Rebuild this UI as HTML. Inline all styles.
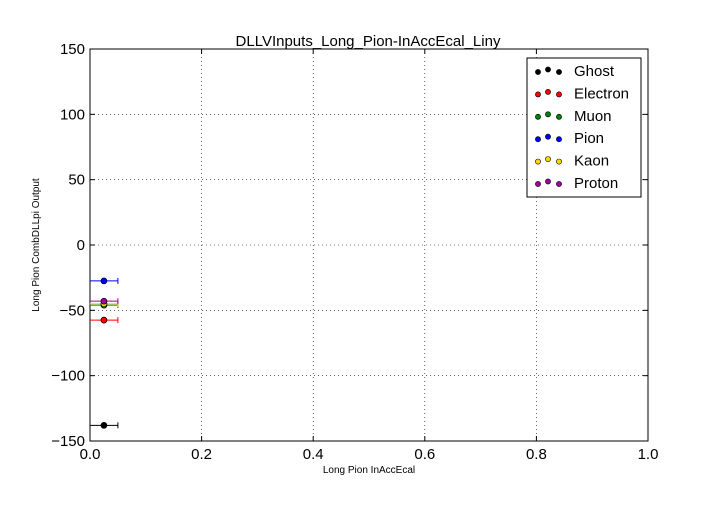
<!DOCTYPE html>
<html><head><meta charset="utf-8"><style>
body{margin:0;background:#fff;width:720px;height:504px;overflow:hidden}
text{font-family:"Liberation Sans",sans-serif}
</style></head><body>
<svg id="c" width="720" height="504"></svg>
<script>
const categories=["Ghost","Electron","Muon","Pion","Kaon","Proton"];
const colors=["#000000","#ff0000","#008000","#0000ff","#ffd700","#a000a0"];
const xValues=[0.025,0.025,0.025,0.025,0.025,0.025];
const xErr=[0.025,0.025,0.025,0.025,0.025,0.025];
const yValues=[-138,-57.5,-46,-27.5,-45,-43];
const xTicks=[0,0.2,0.4,0.6,0.8,1.0];
const xTickLabels=["0.0","0.2","0.4","0.6","0.8","1.0"];
const yTicks=[150,100,50,0,-50,-100,-150];
const yTickLabels=["150","100","50","0","\u221250","\u2212100","\u2212150"];
const svg=document.getElementById('c');
const NS="http://www.w3.org/2000/svg";
const L=90,R=648,T=49,B=441;
const sx=v=>L+(v-0)/(1-0)*(R-L);
const sy=v=>T+(150-v)/300*(B-T);
function mk(tag,a,p){const e=document.createElementNS(NS,tag);for(const k in a)e.setAttribute(k,a[k]);(p||svg).appendChild(e);return e;}
// grid
xTicks.forEach((t,i)=>{
 const g=mk('line',{x1:sx(t),x2:sx(t),y1:T,y2:B,stroke:'#000','stroke-dasharray':'1,3','stroke-width':0.6});
 
 
 mk('line',{x1:sx(t),x2:sx(t),y1:B,y2:B-5,stroke:'#000'});
 mk('line',{x1:sx(t),x2:sx(t),y1:T,y2:T+5,stroke:'#000'});
 const tx=mk('text',{x:sx(t),y:B+18,'text-anchor':'middle','font-size':15});
 tx.textContent=xTickLabels[i];
 
 
});
yTicks.forEach((t,i)=>{
 const g=mk('line',{x1:L,x2:R,y1:sy(t),y2:sy(t),stroke:'#000','stroke-dasharray':'1,3','stroke-width':0.6});
 
 
 mk('line',{x1:L,x2:L+5,y1:sy(t),y2:sy(t),stroke:'#000'});
 mk('line',{x1:R,x2:R-5,y1:sy(t),y2:sy(t),stroke:'#000'});
 const tx=mk('text',{x:L-5,y:sy(t)+5,'text-anchor':'end','font-size':15});
 tx.textContent=yTickLabels[i];
 
 
});
const fr=mk('rect',{x:L,y:T,width:R-L,height:B-T,fill:'none',stroke:'#000','stroke-width':1});


// series
categories.forEach((c,i)=>{
 const g=mk('g',{});
 
 
 const y=sy(yValues[i]);
 mk('line',{x1:sx(xValues[i]-xErr[i]),x2:sx(xValues[i]+xErr[i]),y1:y,y2:y,stroke:colors[i],'stroke-width':1},g);
 mk('line',{x1:sx(xValues[i]+xErr[i]),x2:sx(xValues[i]+xErr[i]),y1:y-3,y2:y+3,stroke:colors[i],'stroke-width':1},g);
 mk('circle',{cx:sx(xValues[i]),cy:y,r:3,fill:colors[i],stroke:'#000','stroke-width':0.7},g);
});
// title and labels
const ti=mk('text',{x:368,y:46,'text-anchor':'middle','font-size':15});ti.textContent="DLLVInputs_Long_Pion-InAccEcal_Liny";

const xl=mk('text',{x:369,y:473,'text-anchor':'middle','font-size':10});xl.textContent="Long Pion InAccEcal";

const yl=mk('text',{x:39,y:245,'text-anchor':'middle','font-size':10,transform:'rotate(-90 39 245)'});yl.textContent="Long Pion CombDLLpi Output";

// legend
const lg=mk('g',{});


mk('rect',{x:527,y:58,width:114,height:139,fill:'#fff',stroke:'#000'},lg);
categories.forEach((c,i)=>{
 const e=mk('g',{},lg);
 
 
 const y=71+i*22.4;
 [538,548,559].forEach((x,k)=>mk('circle',{cx:x,cy:k==1?y-1.5:y+1,r:2.6,fill:colors[i],stroke:'#000','stroke-width':0.6},e));
 const t=mk('text',{x:574,y:y+5,'font-size':15},e);t.textContent=c;
});
</script>
</body></html>
